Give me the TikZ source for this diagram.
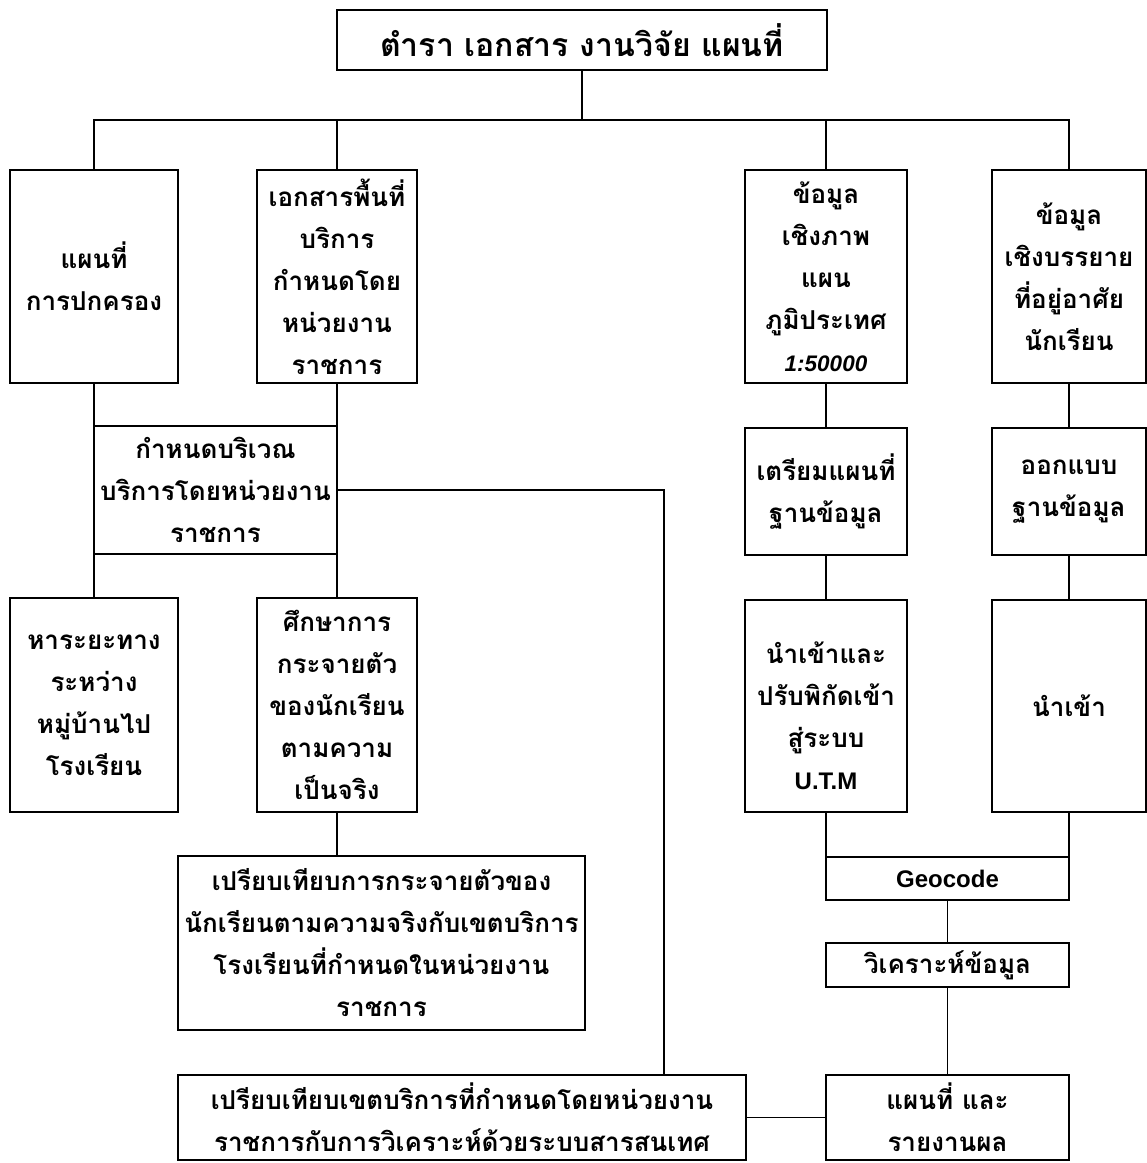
\documentclass[tikz,border=0pt]{standalone}
\usepackage{fontspec}
\newfontfamily\thaifont[Script=Thai]{Loma}
\newfontfamily\latinfont{Liberation Sans}
\usepackage{tikz}

\begin{document}
\begin{tikzpicture}[
  x=1pt,
  y=-1pt,
  box/.style={
    draw,
    line width=1.6pt,
    inner sep=0pt,
    align=center,
    font=\thaifont\bfseries\fontsize{26}{42}\selectfont
  },
  link/.style={line width=1.4pt},
  latin/.style={font=\latinfont\bfseries\fontsize{24}{42}\selectfont}
]
\useasboundingbox (0,0) rectangle (1147,1163);

\node[
  box,
  minimum width=490pt,
  minimum height=60pt,
  font=\thaifont\bfseries\fontsize{32}{40}\selectfont
] (t) at (582,40) {ตำรา เอกสาร งานวิจัย แผนที่};

\node[box, minimum width=168pt, minimum height=213pt] (a) at (94,276.5)
  {แผนที่\\การปกครอง};
\node[box, minimum width=160pt, minimum height=213pt] (b) at (337,276.5)
  {เอกสารพื้นที่\\บริการ\\กำหนดโดย\\หน่วยงาน\\ราชการ};
\node[box, minimum width=162pt, minimum height=213pt] (c) at (826,276.5)
  {ข้อมูล\\เชิงภาพ\\แผน\\ภูมิประเทศ\\{\latinfont\bfseries\itshape\fontsize{22.5}{42}\selectfont 1:50000}};
\node[box, minimum width=154pt, minimum height=213pt] (d) at (1069,276.5)
  {ข้อมูล\\เชิงบรรยาย\\ที่อยู่อาศัย\\นักเรียน};

\node[box, minimum width=243pt, minimum height=128pt] (e) at (215.5,490)
  {กำหนดบริเวณ\\บริการโดยหน่วยงาน\\ราชการ};
\node[box, minimum width=162pt, minimum height=127pt] (k) at (826,491.5)
  {เตรียมแผนที่\\ฐานข้อมูล};
\node[box, minimum width=154pt, minimum height=127pt] (l) at (1069,491.5)
  {ออกแบบ\\ฐานข้อมูล};

\node[box, minimum width=168pt, minimum height=214pt] (h) at (94,705)
  {หาระยะทาง\\ระหว่าง\\หมู่บ้านไป\\โรงเรียน};
\node[box, minimum width=160pt, minimum height=214pt] (i) at (337,705)
  {ศึกษาการ\\กระจายตัว\\ของนักเรียน\\ตามความ\\เป็นจริง};
\node[box, minimum width=162pt, minimum height=212pt] (m) at (826,706)
  {\mbox{}\\นำเข้าและ\\ปรับพิกัดเข้า\\สู่ระบบ\\{\latinfont\bfseries\fontsize{24}{42}\selectfont U.T.M}};
\node[box, minimum width=154pt, minimum height=212pt] (n) at (1069,706)
  {นำเข้า};

\node[box, minimum width=407pt, minimum height=174pt] (j) at (381.5,943)
  {เปรียบเทียบการกระจายตัวของ\\นักเรียนตามความจริงกับเขตบริการ\\โรงเรียนที่กำหนดในหน่วยงาน\\ราชการ};
\node[box, latin, minimum width=243pt, minimum height=43pt] (q) at (947.5,878.5)
  {Geocode};
\node[box, minimum width=243pt, minimum height=44pt] (o) at (947.5,965)
  {วิเคราะห์ข้อมูล};

\node[box, minimum width=568pt, minimum height=85pt] (g) at (462,1117.5)
  {เปรียบเทียบเขตบริการที่กำหนดโดยหน่วยงาน\\ราชการกับการวิเคราะห์ด้วยระบบสารสนเทศ};
\node[box, minimum width=243pt, minimum height=85pt] (p) at (947.5,1117.5)
  {แผนที่ และ\\รายงานผล};

\coordinate (bar) at (582,120);
\draw[link] (t.south) -- (bar);
\draw[link] (a.north) |- (bar) -| (d.north);
\draw[link] (b.north) -- (b.north |- bar);
\draw[link] (c.north) -- (c.north |- bar);

\draw[link] (a.south) -- (a.south |- e.north);
\draw[link] (b.south) -- (b.south |- e.north);
\draw[link] (h.north |- e.south) -- (h.north);
\draw[link] (i.north |- e.south) -- (i.north);
\draw[link] (e.east) -| ([xshift=-83pt]g.north east);
\draw[link] (i.south) -- (i.south |- j.north);

\draw[link] (c.south) -- (k.north);
\draw[link] (d.south) -- (l.north);
\draw[link] (k.south) -- (m.north);
\draw[link] (l.south) -- (n.north);
\draw[link] (m.south) -- (m.south |- q.north);
\draw[link] (n.south) -- (n.south |- q.north);
\draw[link] (q.south) -- (o.north);
\draw[link] (o.south) -- (p.north);
\draw[link] (g.east) -- (p.west);
\end{tikzpicture}
\end{document}
